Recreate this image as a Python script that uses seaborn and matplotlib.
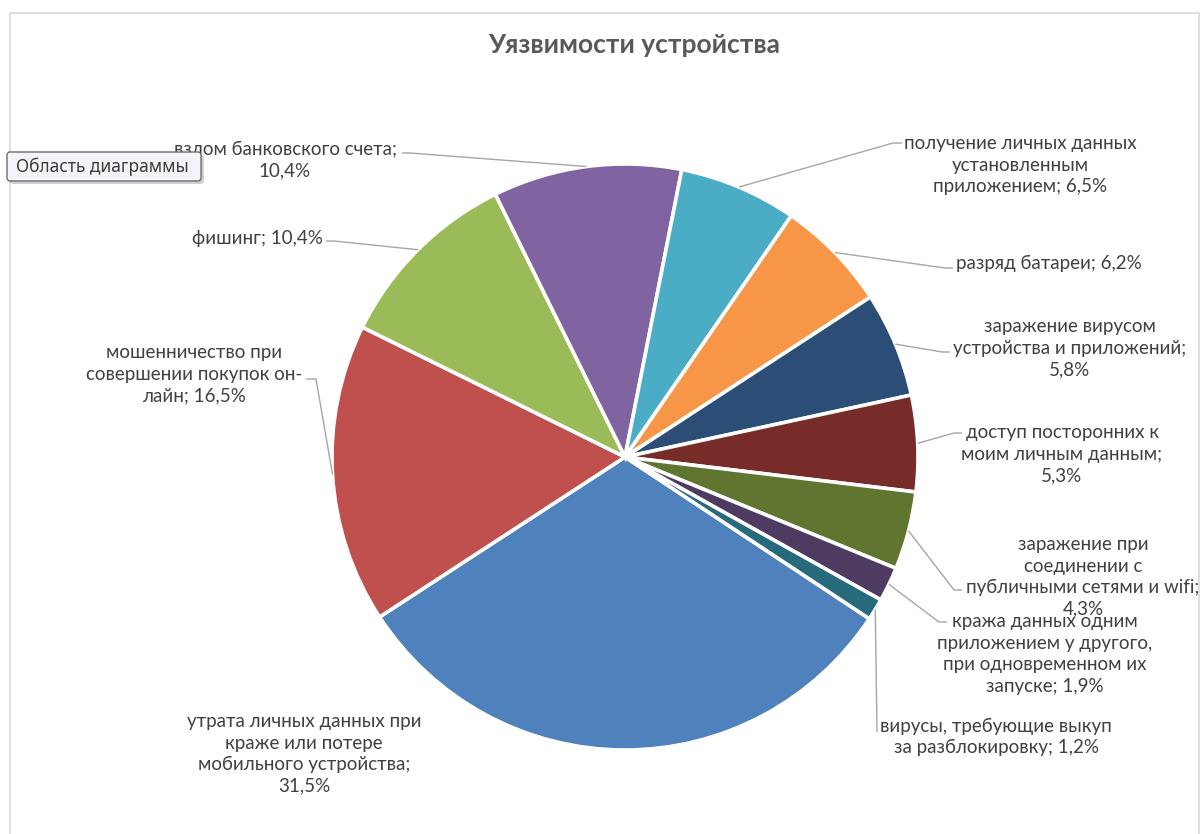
import matplotlib
matplotlib.use("Agg")
import matplotlib.pyplot as plt
from matplotlib.patches import FancyBboxPatch, Rectangle
import numpy as np
import seaborn as sns

# ---- data -------------------------------------------------------------
categories = [
    "утрата личных данных при\nкраже или потере\nмобильного устройства",
    "мошенничество при\nсовершении покупок он-\nлайн",
    "фишинг",
    "взлом банковского счета",
    "получение личных данных\nустановленным\nприложением",
    "разряд батареи",
    "заражение вирусом\nустройства и приложений",
    "доступ посторонних к\nмоим личным данным",
    "заражение при\nсоединении с\nпубличными сетями и wifi",
    "кража данных одним\nприложением у другого,\nпри одновременном их\nзапуске",
    "вирусы, требующие выкуп\nза разблокировку",
]
shares = [31.5, 16.5, 10.4, 10.4, 6.5, 6.2, 5.8, 5.3, 4.3, 1.9, 1.2]
slice_colors = ["#4F81BD", "#C0504D", "#9BBB59", "#8064A2", "#4BACC6", "#F79646",
                "#2C4D75", "#772C2A", "#5F7530", "#4D3B62", "#276A7C"]
title = "Уязвимости устройства"

# ---- label layout (canvas pixels, origin top-left) ---------------------
# sep: what follows "name;" before the value; pos: label centre;
# bend: where the leader line bends; tick: length of the short horizontal stub
layout = [
    dict(sep="\n", pos=(304, 754), bend=None, tick=0),
    dict(sep=" ", pos=(194, 374), bend=(316, 379), tick=-10),
    dict(sep=" ", pos=(257, 238), bend=(334, 241), tick=-8),
    dict(sep="\n", pos=(285, 160), bend=(410, 153), tick=-8),
    dict(sep=" ", pos=(1020, 165), bend=(893, 143), tick=9),
    dict(sep=" ", pos=(1049, 263), bend=(945, 268), tick=8),
    dict(sep="\n", pos=(1070, 348), bend=(942, 352), tick=8),
    dict(sep="\n", pos=(1062, 454), bend=(954, 433), tick=8),
    dict(sep="\n", pos=(1083, 577), bend=(954, 590), tick=8),
    dict(sep=" ", pos=(1045, 654), bend=(939, 622), tick=8),
    dict(sep=" ", pos=(996, 737), bend=(877, 732), tick=0),
]

W, H = 1201, 834
CX, CY, R = 625, 457, 293


def Y(y):
    return H - y


sns.set_theme(style="white")
plt.rcParams["font.family"] = ["Lato", "Open Sans", "DejaVu Sans"]
palette = sns.color_palette(slice_colors)

fig = plt.figure(figsize=(W / 100, H / 100), dpi=100)
ax = fig.add_axes([0, 0, 1, 1])

wedges, _ = ax.pie(
    shares,
    colors=palette,
    startangle=-33.5,
    counterclock=False,
    radius=R,
    center=(CX, Y(CY)),
    wedgeprops=dict(edgecolor="white", linewidth=2.6),
)
ax.set_xlim(0, W)
ax.set_ylim(0, H)
ax.set_aspect("equal")
ax.axis("off")

# chart area border
ax.add_patch(Rectangle((10, Y(840)), 1189, 827, fill=False,
                       edgecolor="#D9D9D9", linewidth=1.2, zorder=1))

ax.text(634, Y(45), title, ha="center", va="center", fontsize=19,
        fontweight="bold", color="#595959")

label_color = "#404040"
for name, val, w, lay in zip(categories, shares, wedges, layout):
    txt = f"{name};{lay['sep']}{val:.1f}".replace(".", ",") + "%"
    tx, ty = lay["pos"]
    ax.text(tx, Y(ty), txt, ha="center", va="center", multialignment="center",
            fontsize=13.5, linespacing=1.32, color=label_color, zorder=3)
    if lay["bend"] is not None:
        mid = np.deg2rad((w.theta1 + w.theta2) / 2)
        ex = CX + R * np.cos(mid)
        ey = Y(CY) + R * np.sin(mid)
        bx, by = lay["bend"]
        xs = [ex, bx, bx + lay["tick"]]
        ys = [ey, Y(by), Y(by)]
        ax.plot(xs, ys, color="#A6A6A6", linewidth=1.0, zorder=2,
                solid_capstyle="butt")

# hover tooltip for the chart area
ax.add_patch(FancyBboxPatch((10, Y(184)), 194, 29,
                            boxstyle="round,pad=0,rounding_size=3",
                            facecolor="#9A9A9A", edgecolor="none", alpha=0.45,
                            zorder=9))
ax.add_patch(FancyBboxPatch((7, Y(181)), 194, 29,
                            boxstyle="round,pad=0,rounding_size=3",
                            facecolor="#F4F4F8", edgecolor="#6E6E6E",
                            linewidth=1.0, zorder=10))
ax.text(16, Y(166.5), "Область диаграммы", ha="left", va="center",
        fontsize=12.5, color="#3A3A3A", zorder=11,
        family=["Noto Sans", "DejaVu Sans"])

fig.savefig("out.png", dpi=100, facecolor="white")
